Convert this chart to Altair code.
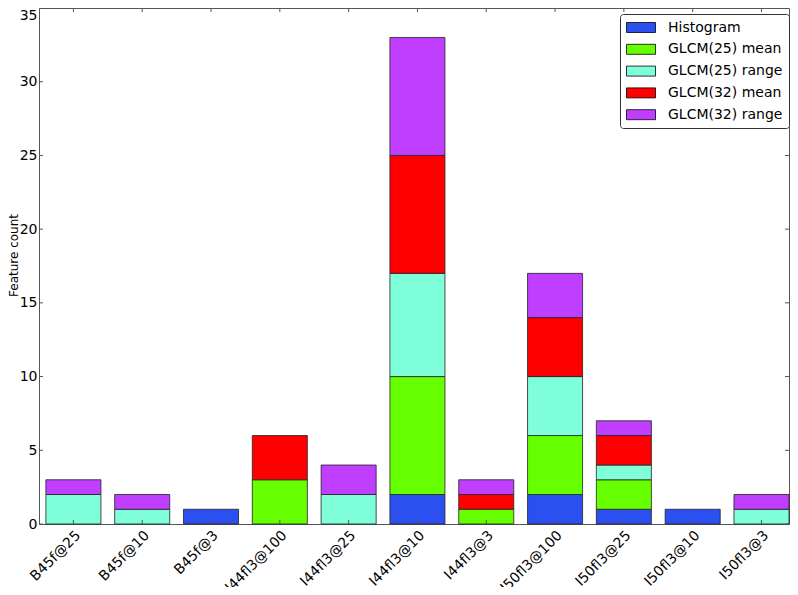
import altair as alt
import pandas as pd

categories = ["B45f@25", "B45f@10", "B45f@3", "I44ﬂ3@100", "I44ﬂ3@25", "I44ﬂ3@10",
              "I44ﬂ3@3", "I50ﬂ3@100", "I50ﬂ3@25", "I50ﬂ3@10", "I50ﬂ3@3"]
series = ["Histogram", "GLCM(25) mean", "GLCM(25) range", "GLCM(32) mean", "GLCM(32) range"]
histogram    = [0, 0, 1, 0, 0, 2, 0, 2, 1, 1, 0]
glcm25_mean  = [0, 0, 0, 3, 0, 8, 1, 4, 2, 0, 0]
glcm25_range = [2, 1, 0, 0, 2, 7, 0, 4, 1, 0, 1]
glcm32_mean  = [0, 0, 0, 3, 0, 8, 1, 4, 2, 0, 0]
glcm32_range = [1, 1, 0, 0, 2, 8, 1, 3, 1, 0, 1]
colors = ["#2c4ff0", "#66ff00", "#7fffd9", "#ff0000", "#bf3eff"]
y_ticks = [0, 5, 10, 15, 20, 25, 30, 35]

values = [histogram, glcm25_mean, glcm25_range, glcm32_mean, glcm32_range]
rows = []
for si, (s, vals) in enumerate(zip(series, values)):
    for c, v in zip(categories, vals):
        if v > 0:
            rows.append({"category": c, "series": s, "order": si, "count": v})
df = pd.DataFrame(rows)
cat_df = pd.DataFrame({"category": categories})
tick_df = pd.DataFrame({"count": y_ticks})

W, H = 750, 516
FRAME = "#555555"

xscale = alt.Scale(paddingInner=0.2, paddingOuter=0.05, align=1)
yscale = alt.Scale(domain=[0, 35], nice=False)

bars = alt.Chart(df).mark_bar(stroke="#222222", strokeWidth=0.8, opacity=1).encode(
    x=alt.X("category:N", sort=categories, scale=xscale,
            axis=alt.Axis(title=None, labelAngle=315, labelAlign="right", labelBaseline="top",
                          labelFontSize=14, labelPadding=4, ticks=False, domain=False,
                          grid=False, labelColor="black", labelLimit=200)),
    y=alt.Y("count:Q", stack="zero", scale=yscale,
            axis=alt.Axis(title="Feature count", titleFontSize=12, titleFontWeight="normal",
                          titleX=-22, titleY=247, titleAngle=270, titleAlign="center",
                          titleBaseline="alphabetic", titleColor="black",
                          labelFontSize=14, labelPadding=2, ticks=False, domain=False,
                          grid=False, values=y_ticks, labelColor="black",
                          labelBaseline=alt.ExprRef("datum.value == 35 ? 'top' : 'middle'"))),
    color=alt.Color("series:N", sort=series,
                    scale=alt.Scale(domain=series, range=colors),
                    legend=alt.Legend(title=None, orient="none", legendX=581, legendY=6,
                                      symbolType="M-1,-0.714H3.143V0.714H-1Z",
                                      symbolSize=196, symbolStrokeColor="black",
                                      symbolStrokeWidth=0.8, symbolOpacity=1,
                                      labelFontSize=14, labelOffset=27, rowPadding=6.8,
                                      padding=6, strokeColor="#333333", fillColor="white",
                                      cornerRadius=3, labelColor="black")),
    order=alt.Order("order:Q", sort="ascending"),
)

xt_bottom = alt.Chart(cat_df).mark_rule(color=FRAME, strokeWidth=1).encode(
    x=alt.X("category:N", sort=categories, scale=xscale),
    y=alt.value(H), y2=alt.value(H - 4))
xt_top = alt.Chart(cat_df).mark_rule(color=FRAME, strokeWidth=1).encode(
    x=alt.X("category:N", sort=categories, scale=xscale),
    y=alt.value(0), y2=alt.value(4))
yt_left = alt.Chart(tick_df).mark_rule(color=FRAME, strokeWidth=1).encode(
    y=alt.Y("count:Q", scale=yscale),
    x=alt.value(0), x2=alt.value(4))
yt_right = alt.Chart(tick_df).mark_rule(color=FRAME, strokeWidth=1).encode(
    y=alt.Y("count:Q", scale=yscale),
    x=alt.value(W - 4), x2=alt.value(W))

chart = alt.layer(bars, xt_bottom, xt_top, yt_left, yt_right).properties(
    width=W, height=H,
    autosize=alt.AutoSizeParams(type="none"),
    padding={"left": 31, "top": 0, "right": 1, "bottom": 63},
).configure(font="DejaVu Sans").configure_view(stroke=FRAME, strokeWidth=1)

chart.save("out.html", embed_options={"renderer": "svg", "actions": False})
